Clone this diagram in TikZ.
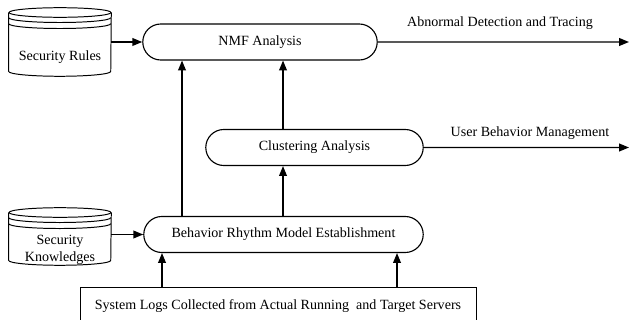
\documentclass[tikz,border=0pt]{standalone}
\usepackage{fontspec}
\setmainfont{Liberation Serif}
\usetikzlibrary{shapes.misc,arrows.meta}
\tikzset{
  pill/.style={rounded rectangle, draw, line width=0.8pt, minimum height=0.9cm, inner sep=2pt},
  flow/.style={line width=1pt, -{Triangle[length=7pt,width=5.5pt]}},
  store/.style={minimum width=2.55cm, inner sep=0pt},
  dbline/.style={line width=0.7pt},
}
% cylinder with stacked rims drawn round node #1
\newcommand{\dbcyl}[1]{%
  \draw[dbline] ([yshift=-0.12cm]#1.north) ellipse [x radius=1.275cm, y radius=0.12cm];
  \foreach \dy in {0.13cm,0.28cm}
    \draw[dbline] ([yshift=-0.12cm-\dy]#1.north west) arc[start angle=180, end angle=360, x radius=1.275cm, y radius=0.12cm];
  \draw[dbline] ([yshift=-0.12cm]#1.north west) -- ([yshift=0.12cm]#1.south west)
    arc[start angle=180, end angle=360, x radius=1.275cm, y radius=0.12cm]
    -- ([yshift=-0.12cm]#1.north east);
}
\begin{document}
\begin{tikzpicture}[x=0.025cm, y=0.025cm]
  \useasboundingbox (0,0) rectangle (629,320);
  \clip (0,0) rectangle (629,320);
  % stores
  \node[store, minimum height=1.7cm] (rules) at (60,278) {};
  \node[store, minimum height=1.425cm] (know) at (60,83.5) {};
  \dbcyl{rules}
  \dbcyl{know}
  \node (rulestxt) at (60,263) {Security Rules};
  \node[align=center] (knowtxt) at (60,70.5) {Security\\Knowledges};
  % processing steps
  \node[pill, minimum width=6cm] (nmf) at (260,278) {NMF Analysis};
  \node[pill, minimum width=5.575cm] (clust) at (314.5,172.5) {Clustering Analysis};
  \node[pill, minimum width=7.125cm] (brm) at (283.5,85.5) {Behavior Rhythm Model Establishment};
  \node[draw, line width=0.6pt, minimum width=9.9cm, minimum height=0.95cm] (logs) at (278,14)
    {System Logs Collected from Actual Running\ \ and Target Servers};
  % outputs
  \coordinate (out1) at (629,278);
  \coordinate (out2) at (629,172.5);
  \node (abn) at (500,297) {Abnormal Detection and Tracing};
  \node (ubm) at (530,187) {User Behavior Management};
  \coordinate (upA) at (182,0);
  \coordinate (upB) at (283,0);
  \coordinate (upC) at (162,0);
  \coordinate (upD) at (397,0);
  % connectors
  \draw[flow] (rules.east |- nmf) -- (nmf);
  \draw[flow] (know.east |- brm) -- (brm);
  \draw[flow] (nmf) -- (out1);
  \draw[flow] (clust) -- (out2);
  \draw[flow] (brm.north -| upA) -- (nmf.south -| upA);
  \draw[flow] (brm.north -| upB) -- (clust.south -| upB);
  \draw[flow] (clust.north -| upB) -- (nmf.south -| upB);
  \draw[flow] (logs.north -| upC) -- (brm.south -| upC);
  \draw[flow] (logs.north -| upD) -- (brm.south -| upD);
\end{tikzpicture}
\end{document}
